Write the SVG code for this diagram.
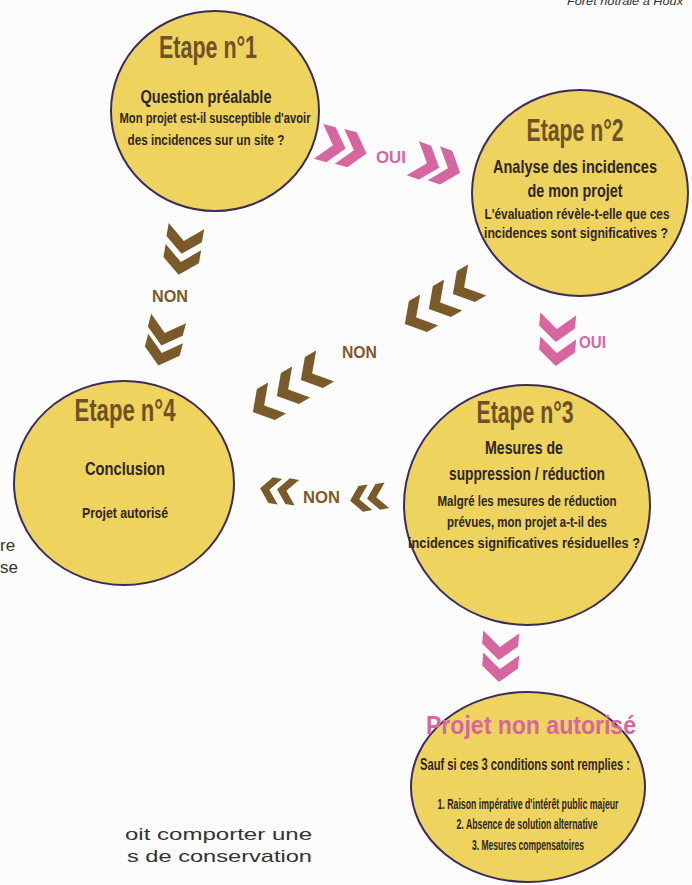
<svg xmlns="http://www.w3.org/2000/svg" xmlns:xlink="http://www.w3.org/1999/xlink" width="692" height="885" viewBox="0 0 692 885">
<style>
.bg{fill:#fcfcfd}
.node{fill:#efd35f;stroke:#3b2b5a;stroke-width:2}
.t{font-family:"Liberation Sans Narrow","Liberation Sans",Arial,sans-serif;font-weight:bold;text-anchor:middle;fill:#2e2620}
.h{fill:#6e5224;font-size:32px}
.m{font-size:19px}
.s{font-size:15.5px}
.pk{fill:#d6669f}
.br{fill:#7a5a29}
.lab{font-family:"Liberation Sans Narrow","Liberation Sans",Arial,sans-serif;font-weight:bold;font-size:17px}
.side{font-family:"Liberation Sans",Arial,sans-serif;font-size:17px;fill:#333}
</style>
<defs>
<polygon id="chev" points="-14,-18 -1,-18 14,0 -1,18 -14,18 1,0" stroke-linejoin="round"/>
</defs>
<rect class="bg" x="0" y="0" width="692" height="885"/>
<text x="567" y="5" font-family="Liberation Sans, Arial, sans-serif" font-style="italic" font-size="11" fill="#333" textLength="116" lengthAdjust="spacingAndGlyphs">Forêt notrale à Houx</text>
<text class="side" x="0" y="551">re</text>
<text class="side" x="0" y="573">se</text>
<text class="side" x="125" y="840" textLength="187" lengthAdjust="spacingAndGlyphs">oit comporter une</text>
<text class="side" x="127" y="862" textLength="185" lengthAdjust="spacingAndGlyphs">s de conservation</text>

<g id="connectors">
<g class="pk">
<use xlink:href="#chev" transform="translate(332,145) rotate(15)"/>
<use xlink:href="#chev" transform="translate(353,150) rotate(15)"/>
<use xlink:href="#chev" transform="translate(426,163) rotate(20)"/>
<use xlink:href="#chev" transform="translate(447,168) rotate(20)"/>
<use xlink:href="#chev" transform="translate(557,328) rotate(95)"/>
<use xlink:href="#chev" transform="translate(557,352) rotate(95)"/>
<use xlink:href="#chev" transform="translate(500,646) rotate(95)"/>
<use xlink:href="#chev" transform="translate(500,668) rotate(95)"/>
</g>
<g class="br">
<use xlink:href="#chev" transform="translate(184,240) rotate(100)"/>
<use xlink:href="#chev" transform="translate(181,261) rotate(100)"/>
<use xlink:href="#chev" transform="translate(165,332) rotate(105)"/>
<use xlink:href="#chev" transform="translate(162,352) rotate(105)"/>
<use xlink:href="#chev" transform="translate(465,287) rotate(150)"/>
<use xlink:href="#chev" transform="translate(441,302) rotate(150)"/>
<use xlink:href="#chev" transform="translate(417,317) rotate(150)"/>
<use xlink:href="#chev" transform="translate(313,373) rotate(150)"/>
<use xlink:href="#chev" transform="translate(289,389) rotate(150)"/>
<use xlink:href="#chev" transform="translate(265,405) rotate(150)"/>
<use xlink:href="#chev" transform="translate(270,490) rotate(190) scale(0.72)"/>
<use xlink:href="#chev" transform="translate(287,491) rotate(190) scale(0.72)"/>
<use xlink:href="#chev" transform="translate(360,499) rotate(170) scale(0.72)"/>
<use xlink:href="#chev" transform="translate(377,497) rotate(170) scale(0.72)"/>
</g>
<text class="lab pk" x="376" y="163" textLength="30" lengthAdjust="spacingAndGlyphs">OUI</text>
<text class="lab pk" x="579" y="348" textLength="27" lengthAdjust="spacingAndGlyphs">OUI</text>
<text class="lab br" x="152" y="302" textLength="36" lengthAdjust="spacingAndGlyphs">NON</text>
<text class="lab br" x="342" y="358" textLength="35" lengthAdjust="spacingAndGlyphs">NON</text>
<text class="lab br" x="303" y="503" textLength="37" lengthAdjust="spacingAndGlyphs">NON</text>
</g>

<g id="etape1">
<ellipse class="node" cx="215" cy="111" rx="104" ry="100"/>
<text class="t h" x="208" y="58" textLength="98" lengthAdjust="spacingAndGlyphs">Etape n°1</text>
<text class="t m" x="206" y="103" textLength="131" lengthAdjust="spacingAndGlyphs">Question préalable</text>
<text class="t s" x="215" y="123" textLength="191" lengthAdjust="spacingAndGlyphs">Mon projet est-il susceptible d'avoir</text>
<text class="t s" x="206" y="145" textLength="157" lengthAdjust="spacingAndGlyphs">des incidences sur un site ?</text>
</g>

<g id="etape2">
<ellipse class="node" cx="580" cy="193" rx="108" ry="103"/>
<text class="t h" x="575" y="141" textLength="97" lengthAdjust="spacingAndGlyphs">Etape n°2</text>
<text class="t m" x="575" y="173" textLength="164" lengthAdjust="spacingAndGlyphs">Analyse des incidences</text>
<text class="t m" x="575" y="197" textLength="95" lengthAdjust="spacingAndGlyphs">de mon projet</text>
<text class="t s" x="577" y="219" textLength="185" lengthAdjust="spacingAndGlyphs">L'évaluation révèle-t-elle que ces</text>
<text class="t s" x="576" y="238" textLength="184" lengthAdjust="spacingAndGlyphs">incidences sont significatives ?</text>
</g>

<g id="etape3">
<ellipse class="node" cx="527" cy="505" rx="123" ry="120"/>
<text class="t h" x="525" y="423" textLength="97" lengthAdjust="spacingAndGlyphs">Etape n°3</text>
<text class="t m" x="524" y="454" textLength="78" lengthAdjust="spacingAndGlyphs">Mesures de</text>
<text class="t m" x="527" y="480" textLength="156" lengthAdjust="spacingAndGlyphs">suppression / réduction</text>
<text class="t s" x="527" y="506" textLength="179" lengthAdjust="spacingAndGlyphs">Malgré les mesures de réduction</text>
<text class="t s" x="527" y="527" textLength="160" lengthAdjust="spacingAndGlyphs">prévues, mon projet a-t-il des</text>
<text class="t s" x="524" y="548" textLength="232" lengthAdjust="spacingAndGlyphs">incidences significatives résiduelles ?</text>
</g>

<g id="etape4">
<ellipse class="node" cx="124" cy="483" rx="110" ry="102"/>
<text class="t h" x="125" y="421" textLength="101" lengthAdjust="spacingAndGlyphs">Etape n°4</text>
<text class="t m" x="125" y="475" textLength="80" lengthAdjust="spacingAndGlyphs">Conclusion</text>
<text class="t" x="125" y="518" font-size="14.5" textLength="86" lengthAdjust="spacingAndGlyphs">Projet autorisé</text>
</g>

<g id="non-autorise">
<ellipse class="node" cx="528" cy="787" rx="117" ry="95"/>
<text class="t pk" x="531" y="734" font-size="26" textLength="210" lengthAdjust="spacingAndGlyphs">Projet non autorisé</text>
<text class="t" x="525" y="770" font-size="16.5" textLength="210" lengthAdjust="spacingAndGlyphs">Sauf si ces 3 conditions sont remplies :</text>
<text class="t" x="528" y="809" font-size="14.5" textLength="181" lengthAdjust="spacingAndGlyphs">1. Raison impérative d'intérêt public majeur</text>
<text class="t" x="527" y="829" font-size="14.5" textLength="141" lengthAdjust="spacingAndGlyphs">2. Absence de solution alternative</text>
<text class="t" x="528" y="850" font-size="14.5" textLength="112" lengthAdjust="spacingAndGlyphs">3. Mesures compensatoires</text>
</g>
</svg>
